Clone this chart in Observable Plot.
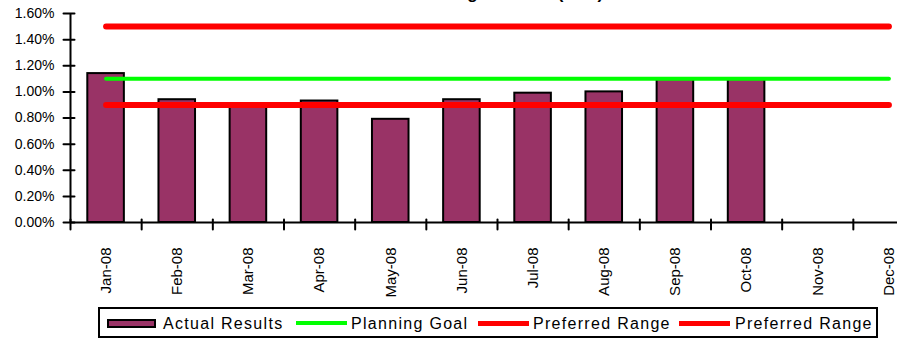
<!DOCTYPE html>
<html><head><meta charset="utf-8">
<script src="https://cdn.jsdelivr.net/npm/d3@7"></script>
<script src="https://cdn.jsdelivr.net/npm/@observablehq/plot@0.6"></script>
<style>
html,body{margin:0;padding:0;background:#fff;}
#wrap{position:relative;width:897px;height:340px;overflow:hidden;font-family:"Liberation Sans",Arial,sans-serif;background:#fff;color:#000;}
#title{position:absolute;left:0;width:934px;text-align:center;top:-15px;font-size:17px;line-height:17px;font-weight:bold;white-space:nowrap;}
#chart{position:absolute;left:0;top:0;}
#legend{position:absolute;left:98px;top:307px;width:780px;height:31px;box-sizing:border-box;border:2px solid #000;}
.lg{position:absolute;}
.lt{position:absolute;font-size:16px;letter-spacing:1.3px;line-height:16px;top:316px;white-space:nowrap;}
</style></head>
<body>
<div id="wrap">
  <div id="chart"></div>
  <div id="title"></div>
  <div id="legend"></div>
  <div id="legitems"></div>
</div>
<script>
const title = "Total Plant Average Results (YTD)";
const months = ["Jan-08","Feb-08","Mar-08","Apr-08","May-08","Jun-08","Jul-08","Aug-08","Sep-08","Oct-08","Nov-08","Dec-08"];
const actual = [1.14, 0.94, 0.91, 0.93, 0.79, 0.94, 0.99, 1.00, 1.10, 1.10, null, null];
const planningGoal = [1.10, 1.10, 1.10, 1.10, 1.10, 1.10, 1.10, 1.10, 1.10, 1.10, 1.10, 1.10];
const preferredHigh = [1.50, 1.50, 1.50, 1.50, 1.50, 1.50, 1.50, 1.50, 1.50, 1.50, 1.50, 1.50];
const preferredLow = [0.90, 0.90, 0.90, 0.90, 0.90, 0.90, 0.90, 0.90, 0.90, 0.90, 0.90, 0.90];
const yTicks = [0, 0.2, 0.4, 0.6, 0.8, 1.0, 1.2, 1.4, 1.6];
const seriesNames = ["Actual Results", "Planning Goal", "Preferred Range", "Preferred Range"];
const colors = {actual: "#993366", goal: "#00ff00", range: "#ff0000"};

document.getElementById("title").textContent = title;

const rows = months.map((m, i) => ({month: m, i, actual: actual[i], goal: planningGoal[i], hi: preferredHigh[i], lo: preferredLow[i]}));
const xBounds = d3.range(months.length + 1);
const tickLine = {draw(ctx, l) { ctx.moveTo(0, 0); ctx.lineTo(0, -l); }};

const chart = Plot.plot({
  width: 924, height: 300,
  marginLeft: 70, marginRight: 0, marginTop: 13, marginBottom: 78,
  style: {maxWidth: "none", fontFamily: "'Liberation Sans', Arial, sans-serif", background: "white", color: "black"},
  x: {domain: [0, months.length], axis: null},
  y: {domain: [0, 1.6], axis: null},
  marks: [
    Plot.rectY(rows.filter(d => d.actual != null), {x1: "i", x2: d => d.i + 1, y: "actual", insetLeft: 17.3, insetRight: 17.3, fill: colors.actual, stroke: "black", strokeWidth: 2}),
    Plot.lineY(rows, {x: d => d.i + 0.5, y: "lo", stroke: colors.range, strokeWidth: 6}),
    Plot.lineY(rows, {x: d => d.i + 0.5, y: "hi", stroke: colors.range, strokeWidth: 6}),
    Plot.lineY(rows, {x: d => d.i + 0.5, y: "goal", stroke: colors.goal, strokeWidth: 4}),
    Plot.ruleY([0], {stroke: "black", strokeWidth: 2}),
    Plot.ruleX([0], {stroke: "black", strokeWidth: 2}),
    Plot.vector(yTicks, {y: d => d, frameAnchor: "left", rotate: 90, length: 11, anchor: "middle", dx: -1.5, shape: tickLine, stroke: "black", strokeWidth: 2}),
    Plot.vector(xBounds, {x: d => d, frameAnchor: "bottom", length: 10, anchor: "middle", dy: 2, shape: tickLine, stroke: "black", strokeWidth: 2}),
    Plot.text(yTicks, {y: d => d, text: d => d.toFixed(2) + "%", frameAnchor: "left", textAnchor: "end", dx: -16, fontSize: 14, fill: "black"}),
    Plot.text(rows, {x: d => d.i + 0.5, text: "month", frameAnchor: "bottom", rotate: -90, textAnchor: "end", lineAnchor: "middle", dy: 25, fontSize: 15, fill: "black"})
  ]
});
document.getElementById("chart").appendChild(chart);

// legend
const li = document.getElementById("legitems");
function box(x, y, w, h, css) { const d = document.createElement("div"); d.className = "lg"; d.style.cssText = `left:${x}px;top:${y}px;width:${w}px;height:${h}px;${css}`; li.appendChild(d); }
function txt(x, s) { const d = document.createElement("div"); d.className = "lt"; d.style.left = x + "px"; d.textContent = s; li.appendChild(d); }
box(106.5, 318.5, 49, 9, `background:${colors.actual};border:2px solid #000;box-sizing:border-box;`);
txt(163, seriesNames[0]);
box(295.5, 321, 51, 4, `background:${colors.goal};`);
txt(351, seriesNames[1]);
box(478, 320.5, 51, 5, `background:${colors.range};`);
txt(533, seriesNames[2]);
box(679, 320.5, 51, 5, `background:${colors.range};`);
txt(735, seriesNames[3]);
</script>
</body></html>
